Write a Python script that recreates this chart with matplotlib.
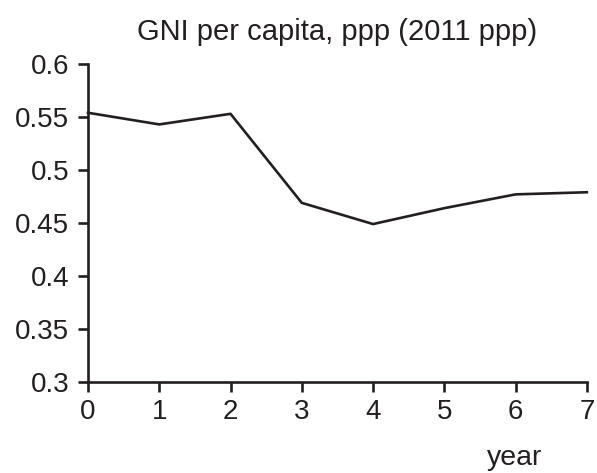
import matplotlib

matplotlib.use("Agg")
import matplotlib.pyplot as plt

# ---------- Data --------------------------------------------------------------

years = [0, 1, 2, 3, 4, 5, 6, 7]
gni_ppp = [0.554, 0.543, 0.553, 0.469, 0.449, 0.464, 0.477, 0.479]

y_ticks = [0.3, 0.35, 0.4, 0.45, 0.5, 0.55, 0.6]
y_tick_labels = ["0.3", "0.35", "0.4", "0.45", "0.5", "0.55", "0.6"]

# ---------- Plot --------------------------------------------------------------

plt.rcParams["font.family"] = ["Liberation Sans", "DejaVu Sans"]
INK = "#231f20"

fig = plt.figure(figsize=(5.97, 4.73), dpi=100)
ax = fig.add_axes([0.1474, 0.1924, 0.8356, 0.6723])

ax.plot(years, gni_ppp, color=INK, lw=1.9, clip_on=False)

ax.set_xlim(0, 7)
ax.set_ylim(0.3, 0.6)
ax.set_xticks(years)
ax.set_yticks(y_ticks)
ax.set_yticklabels(y_tick_labels)

for side in ("top", "right"):
    ax.spines[side].set_visible(False)
for side in ("left", "bottom"):
    ax.spines[side].set_linewidth(1.9)
    ax.spines[side].set_color(INK)

ax.tick_params(direction="out", length=7.5, width=1.9, color=INK,
               labelsize=20, labelcolor=INK)
ax.tick_params(axis="x", pad=5)
ax.tick_params(axis="y", pad=6)

ax.set_title("GNI per capita, ppp (2011 ppp)", fontsize=21, color=INK, pad=17)
fig.text(515 / 597, 1 - 465 / 473, "year", fontsize=20.5, color=INK,
         ha="center", va="baseline")

fig.savefig("out.png", dpi=100)
